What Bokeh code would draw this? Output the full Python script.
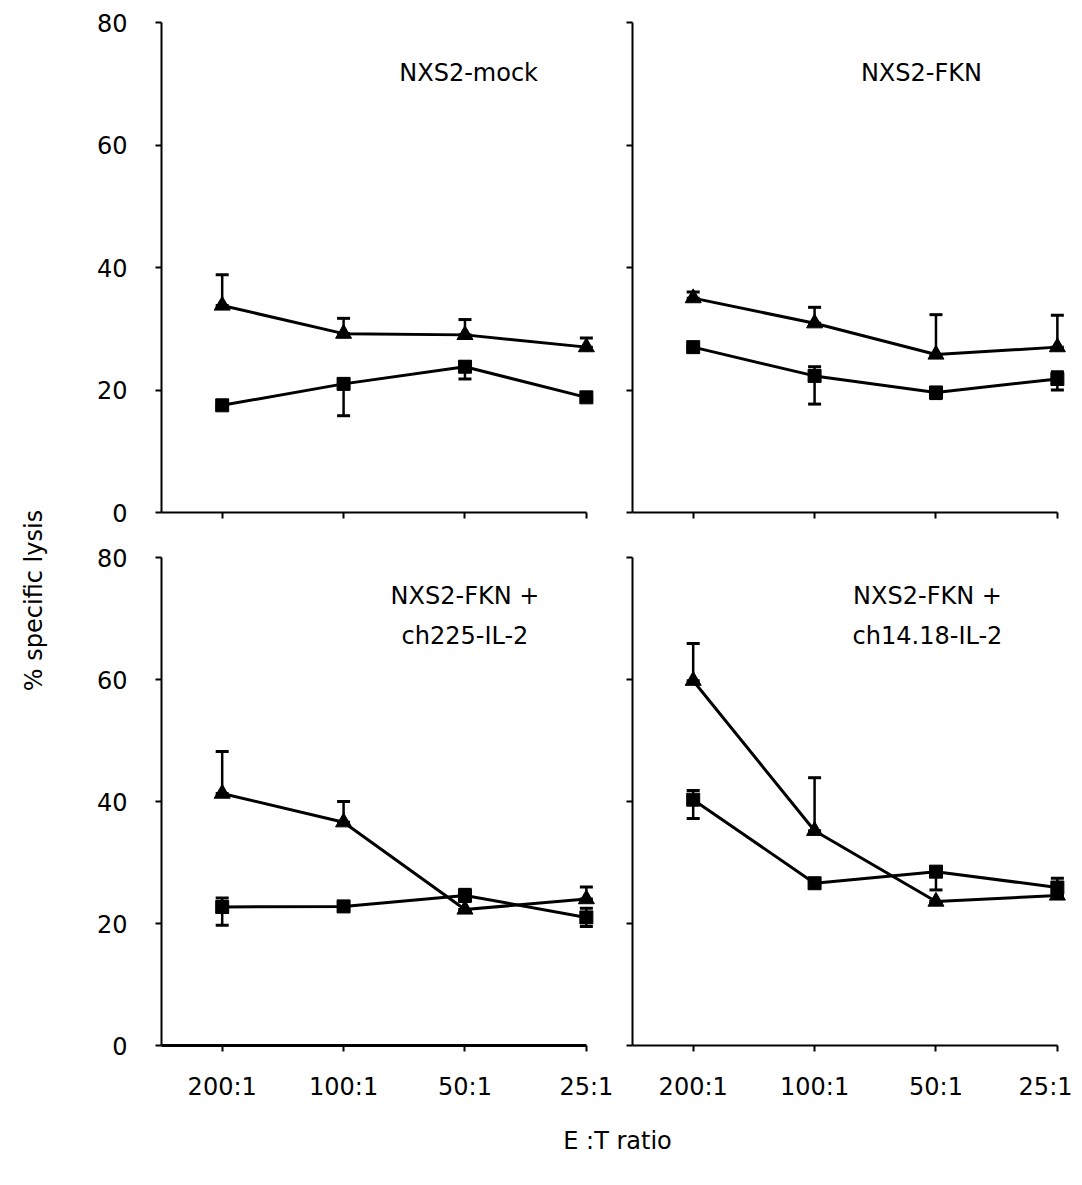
from bokeh.plotting import figure
from bokeh.models import Range1d, FixedTicker, Whisker, TeeHead, ColumnDataSource, Label
from bokeh.layouts import row, column
from bokeh.embed import file_html
from bokeh.resources import INLINE

# ---------------- data ----------------
ratios = ["200:1", "100:1", "50:1", "25:1"]
y_ticks = [0, 20, 40, 60, 80]

# NXS2-mock
mock_tri = [33.8, 29.2, 29.0, 27.0]
mock_tri_up = [5.0, 2.5, 2.5, 1.5]
mock_tri_dn = [0.0, 0.0, 0.0, 0.0]
mock_sq = [17.5, 21.0, 23.8, 18.8]
mock_sq_up = [0.0, 0.8, 0.8, 0.0]
mock_sq_dn = [0.5, 5.2, 2.0, 0.5]

# NXS2-FKN
fkn_tri = [35.0, 30.9, 25.8, 27.0]
fkn_tri_up = [1.0, 2.6, 6.5, 5.2]
fkn_tri_dn = [0.0, 0.0, 0.0, 0.0]
fkn_sq = [27.0, 22.3, 19.6, 21.8]
fkn_sq_up = [0.0, 1.5, 0.0, 1.2]
fkn_sq_dn = [0.0, 4.6, 1.0, 1.8]

# NXS2-FKN + ch225-IL-2
ch225_tri = [41.3, 36.6, 22.3, 24.0]
ch225_tri_up = [6.9, 3.4, 0.0, 2.0]
ch225_tri_dn = [0.0, 0.0, 0.0, 0.0]
ch225_sq = [22.7, 22.8, 24.6, 21.0]
ch225_sq_up = [1.5, 0.0, 1.0, 1.5]
ch225_sq_dn = [3.0, 0.0, 1.0, 1.5]

# NXS2-FKN + ch14.18-IL-2
ch1418_tri = [59.8, 35.2, 23.6, 24.6]
ch1418_tri_up = [6.1, 8.7, 0.0, 0.0]
ch1418_tri_dn = [0.0, 0.0, 0.0, 0.0]
ch1418_sq = [40.3, 26.6, 28.5, 25.9]
ch1418_sq_up = [1.5, 0.0, 0.0, 1.5]
ch1418_sq_dn = [3.1, 0.0, 3.0, 1.5]

FONT = "DejaVu Sans"
FS = "24px"
xs = list(range(len(ratios)))


def panel(tri, tri_up, tri_dn, sq, sq_up, sq_dn, label_text, label_x, label_y,
          left_labels, bottom_labels, frame_h, mbl, mbr, mbt, mbb):
    p = figure(output_backend="svg", toolbar_location=None,
               frame_width=437, frame_height=frame_h,
               x_range=Range1d(-0.5, 3.1), y_range=Range1d(0, 80),
               min_border_left=mbl, min_border_right=mbr,
               min_border_top=mbt, min_border_bottom=mbb)
    p.outline_line_color = None
    p.xgrid.visible = False
    p.ygrid.visible = False

    # axes
    for ax in (p.xaxis, p.yaxis):
        ax.axis_line_width = 2
        ax.axis_line_color = "black"
        ax.major_tick_line_width = 2
        ax.major_tick_line_color = "black"
        ax.major_tick_in = 0
        ax.major_tick_out = 6
        ax.minor_tick_line_color = None
        ax.major_label_text_font = FONT
        ax.major_label_text_font_size = FS
        ax.major_label_text_color = "black"
    p.xaxis.ticker = FixedTicker(ticks=xs)
    p.xaxis.bounds = (-0.5, 3)
    p.yaxis.ticker = FixedTicker(ticks=y_ticks)
    if bottom_labels:
        p.xaxis.major_label_overrides = {i: r for i, r in zip(xs, ratios)}
        p.xaxis.major_label_standoff = 21
    else:
        p.xaxis.major_label_overrides = {i: "" for i in xs}
    if left_labels:
        p.yaxis.major_label_overrides = {t: str(t) for t in y_ticks}
        p.yaxis.major_label_standoff = 28
    else:
        p.yaxis.major_label_overrides = {t: "" for t in y_ticks}
        p.yaxis.major_label_standoff = 0

    for mean, up, dn, mk, sz in ((tri, tri_up, tri_dn, "triangle", 16),
                                  (sq, sq_up, sq_dn, "square", 13)):
        src = ColumnDataSource(dict(
            x=xs, y=mean,
            upper=[m + u for m, u in zip(mean, up)],
            lower=[m - d for m, d in zip(mean, dn)]))
        w = Whisker(source=src, base="x", upper="upper", lower="lower",
                    line_width=2.5, line_color="black", level="underlay",
                    upper_head=TeeHead(size=13, line_width=3, line_color="black"),
                    lower_head=TeeHead(size=13, line_width=3, line_color="black"))
        p.add_layout(w)
        p.line("x", "y", source=src, line_width=3, line_color="black")
        p.scatter("x", "y", source=src, marker=mk, size=sz,
                  fill_color="black", line_color="black")

    p.add_layout(Label(x=label_x, y=label_y, text=label_text,
                       text_font=FONT, text_font_size=FS, text_color="black",
                       text_align="center", text_baseline="middle",
                       text_line_height=1.45))
    return p


tl = panel(mock_tri, mock_tri_up, mock_tri_dn, mock_sq, mock_sq_up, mock_sq_dn,
           "NXS2-mock", 2.03, 71.8, True, False, 490, 101, 22, 22, 30)
tr = panel(fkn_tri, fkn_tri_up, fkn_tri_dn, fkn_sq, fkn_sq_up, fkn_sq_dn,
           "NXS2-FKN", 1.88, 71.8, False, False, 490, 12, 3, 22, 30)
bl = panel(ch225_tri, ch225_tri_up, ch225_tri_dn, ch225_sq, ch225_sq_up, ch225_sq_dn,
           "NXS2-FKN +\nch225-IL-2", 2.0, 70.4, True, True, 488, 101, 22, 15, 60)
br = panel(ch1418_tri, ch1418_tri_up, ch1418_tri_dn, ch1418_sq, ch1418_sq_up, ch1418_sq_dn,
           "NXS2-FKN +\nch14.18-IL-2", 1.93, 70.4, False, True, 488, 12, 3, 15, 60)
bl.xaxis.axis_line_width = 3

# shared axis titles
H_TOTAL = 542 + 563 + 60


def blank(w, h):
    f = figure(output_backend="svg", toolbar_location=None, width=w, height=h,
               x_range=Range1d(0, 1), y_range=Range1d(0, 1),
               x_axis_location=None, y_axis_location=None, min_border=0)
    f.outline_line_color = None
    f.xgrid.visible = False
    f.ygrid.visible = False
    return f


ylab = blank(60, H_TOTAL)
ylab.add_layout(Label(x=0.55, y=1 - 600 / H_TOTAL, text="% specific lysis",
                      angle=1.5707963, text_font=FONT, text_font_size=FS,
                      text_align="center", text_baseline="middle", text_color="black"))

xlab = blank(1012, 60)
xlab.add_layout(Label(x=(617 - 60) / 1012, y=1 - 35 / 60, text="E :T ratio",
                      text_font=FONT, text_font_size=FS, text_align="center",
                      text_baseline="middle", text_color="black"))

layout = row(ylab, column(row(tl, tr), row(bl, br), xlab))

open("out.html", "w").write(file_html(layout, INLINE))
